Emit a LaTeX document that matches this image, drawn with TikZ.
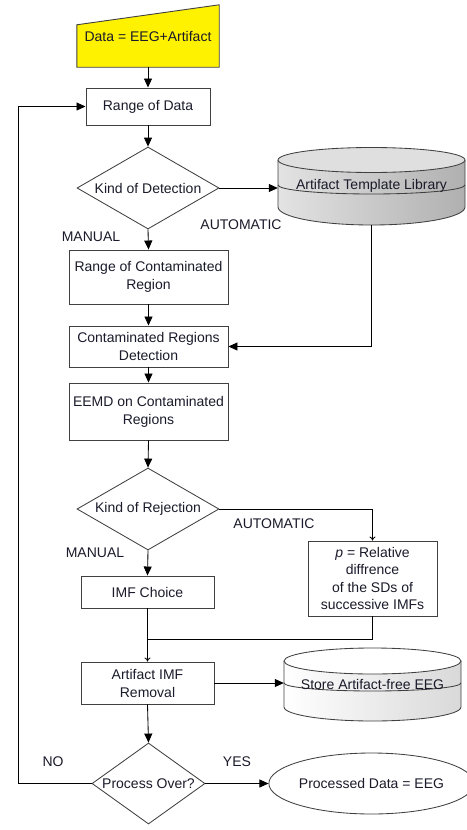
\documentclass[tikz,border=0pt]{standalone}
\usepackage{fontspec}
\setmainfont{Liberation Sans}
\usetikzlibrary{arrows.meta,shapes.geometric,backgrounds}
\definecolor{edge}{HTML}{404040}
\definecolor{txt}{HTML}{1A1A2A}
\begin{document}
\begin{tikzpicture}[x=1pt,y=-1pt,
  every node/.style={font=\fontsize{14}{18}\selectfont, text=txt},
  box/.style={draw=edge, line width=0.95pt, rectangle, inner sep=0pt, align=center},
  dec/.style={draw=edge, line width=0.85pt, diamond, inner sep=0pt, aspect=1.7},
  plain/.style={rectangle, inner sep=0pt, align=center},
  lbl/.style={inner sep=0pt},
  conn/.style={draw=black, line width=0.85pt},
  arr/.style={conn, -{Triangle[length=9pt,width=8pt]}},
  sarr/.style={conn, -{To[length=4pt,width=6pt]}}
]
\useasboundingbox (0,0) rectangle (466,830);

% input trapezoid
\node[plain, minimum width=142pt, minimum height=62pt] (data) at (148,36) {Data = EEG+Artifact};
\begin{pgfonlayer}{background}
\filldraw[fill=yellow, draw=edge, line width=0.9pt] (data.south west) -- (data.south east) -- (data.north east) -- ([yshift=-20pt]data.north west) -- cycle;
\end{pgfonlayer}

\node[box, minimum width=124pt, minimum height=37pt] (rod) at (148,106.5) {Range of Data};
\node[dec, minimum width=142pt, minimum height=82pt] (kd) at (148,188) {Kind of Detection};

% Artifact Template Library drum
\node[plain, minimum width=187pt, minimum height=78pt] (atl) at (371.5,186) {Artifact Template Library};
\begin{pgfonlayer}{background}
\shade[left color=gray!22, right color=gray!62] (278,160) -- (278,207) arc[start angle=180,end angle=360,x radius=93.5pt,y radius=18pt] -- (465,160) -- cycle;
\filldraw[fill=gray!25, draw=edge, line width=0.85pt] (371.5,160) ellipse[x radius=93.5pt, y radius=12.5pt];
\draw[draw=edge, line width=0.85pt] (278,185) arc[start angle=180,end angle=360,x radius=93.5pt,y radius=9pt];
\draw[draw=edge, line width=0.85pt] (278,160) -- (278,207) arc[start angle=180,end angle=360,x radius=93.5pt,y radius=18pt] -- (465,160);
\end{pgfonlayer}

\node[lbl] (auto1) at (241,225) {AUTOMATIC};
\node[lbl] (man1) at (91,237) {MANUAL};

\node[box, minimum width=159pt, minimum height=54pt] (rcr) at (148.5,277) {Range of Contaminated\\Region};
\node[box, minimum width=159pt, minimum height=41pt] (crd) at (148.5,346.5) {Contaminated Regions\\Detection};
\node[box, minimum width=159pt, minimum height=57pt] (eemd) at (148.5,411.5) {EEMD on Contaminated\\Regions};
\node[dec, minimum width=142pt, minimum height=82pt] (kr) at (148,509) {Kind of Rejection};

\node[lbl] (auto2) at (274,524) {AUTOMATIC};
\node[lbl] (man2) at (95,553) {MANUAL};

\node[box, line width=0.9pt, minimum width=129pt, minimum height=75pt, font=\fontsize{14}{17.5}\selectfont] (pbox) at (372.5,578.5) {\textit{p} = Relative\\diffrence\\of the SDs of\\successive IMFs};
\node[box, minimum width=133pt, minimum height=32pt] (imf) at (147.5,592) {IMF Choice};
\node[box, minimum width=133pt, minimum height=42pt] (air) at (147.5,683) {Artifact IMF\\Removal};

% Store drum
\node[plain, minimum width=177pt, minimum height=73pt] (store) at (372.5,684.5) {Store Artifact-free EEG};
\begin{pgfonlayer}{background}
\shade[left color=white, right color=gray!30] (284,661) -- (284,707) arc[start angle=180,end angle=360,x radius=88.5pt,y radius=14pt] -- (461,661) -- cycle;
\filldraw[fill=white, draw=edge, line width=0.85pt] (372.5,661) ellipse[x radius=88.5pt, y radius=13pt];
\draw[draw=edge, line width=0.85pt] (284,683) arc[start angle=180,end angle=360,x radius=88.5pt,y radius=8pt];
\draw[draw=edge, line width=0.85pt] (284,661) -- (284,707) arc[start angle=180,end angle=360,x radius=88.5pt,y radius=14pt] -- (461,661);
\end{pgfonlayer}

\node[dec, minimum width=113pt, minimum height=81pt] (po) at (148.5,783.5) {Process Over?};
\node[draw=edge, line width=0.85pt, ellipse, inner sep=0pt, minimum width=179pt, minimum height=61pt] (pd) at (371.5,783.5) {Processed Data = EEG};

\node[lbl] (no) at (53,762) {NO};
\node[lbl] (yes) at (237,762) {YES};

\coordinate (lp) at (18,106.5);
\coordinate (mj) at (147.5,639);

% connectors
\draw[arr] (data.south) -- (rod.north);
\draw[arr] (po.west) -| (lp) -- (rod.west);
\draw[arr] (rod.south) -- (kd.north);
\draw[arr] (kd.east) -- (kd.east -| atl.west);
\draw[arr] (kd.south) -- (rcr.north);
\draw[arr] (rcr.south) -- (crd.north);
\draw[arr] (atl.south) |- (crd.east);
\draw[arr] (crd.south) -- (eemd.north);
\draw[arr] (eemd.south) -- (kr.north);
\draw[sarr] (kr.east) -| (pbox.north);
\draw[arr] (kr.south) -- (imf.north);
\draw[sarr] (imf.south) -- (air.north);
\draw[conn] (pbox.south) |- (mj);
\draw[arr] (air.east) -- (air.east -| store.west);
\draw[arr] (air.south) -- (po.north);
\draw[arr] (po.east) -- (pd.west);
\end{tikzpicture}
\end{document}
